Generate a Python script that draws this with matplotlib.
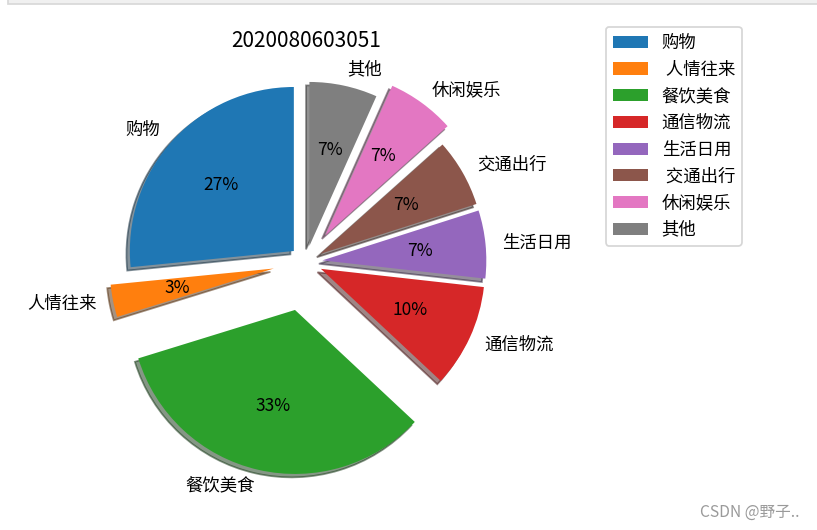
import matplotlib
matplotlib.use("Agg")
import matplotlib.pyplot as plt
from matplotlib.patches import Rectangle

plt.rcParams['font.family'] = ['Noto Sans CJK SC', 'DejaVu Sans']
plt.rcParams['font.size'] = 10

categories = ['购物', '人情往来', '餐饮美食', '通信物流', '生活日用', '交通出行', '休闲娱乐', '其他']
legend_labels = ['购物', ' 人情往来', '餐饮美食', '通信物流', '生活日用', ' 交通出行', '休闲娱乐', '其他']
values = [26.6, 3.2, 33.3, 10.2, 6.7, 6.7, 6.7, 6.7]
explode = [0.1, 0.2, 0.3, 0.1, 0.1, 0.1, 0.2, 0.1]
title = '2020080603051'

W, H, DPI = 817, 530, 125
fig = plt.figure(figsize=(W / DPI, H / DPI), dpi=DPI)

# axes placed so that the pie centre sits at (306, 262) px with radius 164 px
R = 164
cx, cy = 306, 262
side = 2.5 * R
ax = fig.add_axes([(cx - side / 2) / W, (H - cy - side / 2) / H, side / W, side / H])

wedges, texts, autotexts = ax.pie(values, labels=categories, explode=explode,
                                  autopct='%1.0f%%',
                                  shadow={'ox': -0.012, 'oy': -0.012},
                                  startangle=90)
ax.set_aspect('equal')
ax.set_xlim(-1.25, 1.25)
ax.set_ylim(-1.25, 1.25)
ax.set_title(title)

fig.legend(wedges, legend_labels, loc='upper left', borderaxespad=0,
           bbox_to_anchor=(606 / W, 1 - 27 / H), bbox_transform=fig.transFigure)

fig.text(800 / W, 1 - 512 / H, 'CSDN @野子..', ha='right', va='center',
         color='#9a9a9a', fontsize=9)

# screenshot frame at the top
fig.patches.append(Rectangle((8 / W, 1 - 4 / H), 1, 10 / H, transform=fig.transFigure,
                             facecolor='#f0f0f0', edgecolor='#d8d8d8', linewidth=1))

fig.savefig('out.png', dpi=DPI)
